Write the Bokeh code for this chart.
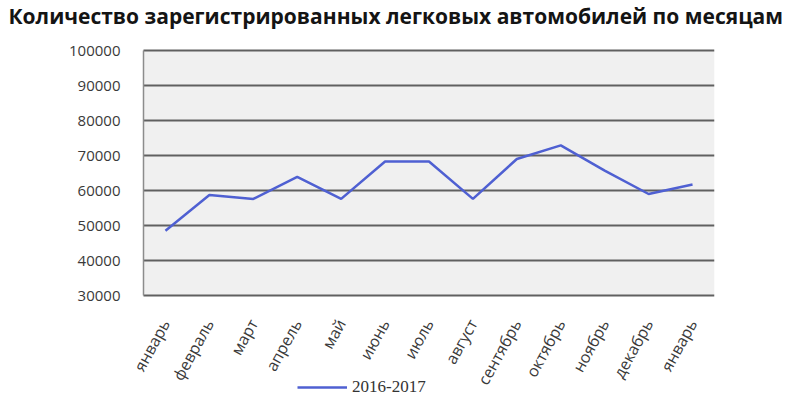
from bokeh.plotting import figure
from bokeh.models import FixedTicker, Legend, LegendItem, Range1d, NumeralTickFormatter, BoxAnnotation
from bokeh.core.properties import value
from bokeh.embed import file_html
from bokeh.resources import INLINE

title_text = "Количество зарегистрированных  легковых автомобилей  по месяцам"
months = ["январь", "февраль", "март", "апрель", "май", "июнь", "июль",
          "август", "сентябрь", "октябрь", "ноябрь", "декабрь", "январь"]
values = [48500, 58700, 57600, 63900, 57600, 68300, 68300,
          57600, 69000, 72900, 65700, 59000, 61700]
series_name = "2016-2017"
y_ticks = [30000, 40000, 50000, 60000, 70000, 80000, 90000, 100000]

xs = list(range(len(months)))
x_lo, x_hi = -0.5, len(months) - 0.5

# layout (pixels)
W, H = 784, 404
border_left, border_right, border_top, border_bottom = 121, 70, 32, 4
plot_left_px, plot_right_px = 143, 714       # visible plot area
plot_top_px, plot_bottom_px = 50, 295
frame_top_px, frame_bottom_px = border_top, H - border_bottom

px_per_x = (plot_right_px - plot_left_px) / (x_hi - x_lo)
px_per_y = (plot_bottom_px - plot_top_px) / (y_ticks[-1] - y_ticks[0])
x_start = x_lo - (plot_left_px - border_left) / px_per_x
y_end = y_ticks[-1] + (plot_top_px - frame_top_px) / px_per_y
y_start = y_ticks[0] - (frame_bottom_px - plot_bottom_px) / px_per_y

# the frame extends around the visible plot area so that the rotated month
# labels and the legend can live inside it
p = figure(width=W, height=H, output_backend="svg", toolbar_location=None,
           x_range=Range1d(x_start, x_hi),
           y_range=Range1d(y_start, y_end),
           x_axis_location=None,
           min_border_left=border_left, min_border_right=border_right,
           min_border_top=border_top, min_border_bottom=border_bottom)

p.title.text = title_text
p.title.text_font = "Open Sans"
p.title.text_font_style = "bold"
p.title.text_font_size = "21px"
p.title.text_color = "#141414"
p.title.align = "left"
p.title.vertical_align = "top"
p.title.offset = 8 - border_left
p.title.standoff = 2

p.background_fill_color = "white"
p.border_fill_color = "white"
p.outline_line_color = None

# plot area (30000..100000) background
p.add_layout(BoxAnnotation(bottom=y_ticks[0], top=y_ticks[-1], left=x_lo, right=x_hi,
                           fill_color="#f0f0f0", fill_alpha=1.0,
                           line_color=None, level="image"))

# y axis
p.yaxis.ticker = FixedTicker(ticks=y_ticks)
p.yaxis.formatter = NumeralTickFormatter(format="0")
p.yaxis.major_tick_line_color = None
p.yaxis.minor_tick_line_color = None
p.yaxis.major_tick_in = 0
p.yaxis.major_tick_out = 0
p.yaxis.axis_line_color = None
p.yaxis.major_label_standoff = 1
p.yaxis.major_label_text_font = "Open Sans"
p.yaxis.major_label_text_font_size = "15px"
p.yaxis.major_label_text_color = "#3a3a3a"

p.xgrid.grid_line_color = None
p.ygrid.grid_line_color = None

# horizontal grid lines across the plot area
p.segment(x0=[x_lo] * len(y_ticks), y0=y_ticks, x1=[x_hi] * len(y_ticks), y1=y_ticks,
          line_color="#606060", line_width=2)

# left border of plot area
p.segment(x0=[x_lo], y0=[y_ticks[0]], x1=[x_lo], y1=[y_ticks[-1]],
          line_color="#8c8c8c", line_width=1.5)

# month labels
p.text(x=xs, y=[y_ticks[0]] * len(xs), text=months, angle=1.065,
       text_align="right", text_baseline="middle", y_offset=25,
       text_font=value("Open Sans"), text_font_size="16px",
       text_color="#3a3a3a")

r = p.line(xs, values, line_color="#4f60d2", line_width=2.5)

legend = Legend(items=[LegendItem(label=series_name, renderers=[r])],
                location=(297 - border_left, 3), orientation="horizontal",
                background_fill_alpha=0, border_line_color=None,
                glyph_width=50, label_text_font="Liberation Serif",
                label_text_font_size="17px", label_text_color="#333333",
                label_standoff=5, padding=0, margin=0)
p.add_layout(legend)

open("out.html", "w").write(file_html(p, INLINE))
